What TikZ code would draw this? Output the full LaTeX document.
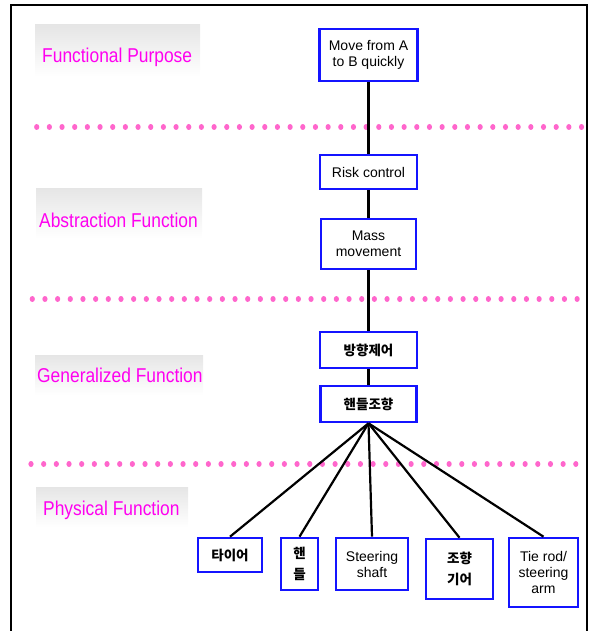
\documentclass[tikz,border=0pt]{standalone}
\usepackage{fontspec}
\setmainfont{Liberation Sans}
\newfontfamily\levelfont{Liberation Sans}[FakeStretch=0.87]
\newfontfamily\kr{Noto Sans CJK KR}
\definecolor{levelpink}{RGB}{255,0,240}
\definecolor{dotpink}{RGB}{255,102,204}
\definecolor{boxblue}{RGB}{20,20,255}

\begin{document}
\begin{tikzpicture}[x=1pt,y=-1pt,
  box/.style={draw=boxblue, line width=2.6pt, fill=white, inner sep=0pt,
    align=center, font=\fontsize{14}{16}\selectfont},
  krbox/.style={box, font=\kr\bfseries\fontsize{13.5}{21}\selectfont},
  link/.style={line width=2.2pt, black},
  level/.style={text=levelpink, font=\levelfont\fontsize{20}{24}\selectfont,
    anchor=base west, inner sep=0pt},
  band/.style={top color=gray!20, bottom color=white, draw=none},
  frame/.style={line width=2.2pt, black}
]
\useasboundingbox (0,0) rectangle (589,631);

% outer frame, open at the bottom
\draw[frame] (11,631) -- (11,5) -- (587,5) -- (587,631);

% shaded bands behind the level titles
\shade[band] (35,25) rectangle (200,77);
\shade[band] (36,188) rectangle (202,238);
\shade[band] (35,355) rectangle (203,395);
\shade[band] (36,487) rectangle (188,527);

% level titles
\node[level] (fp) at (42,63) {Functional Purpose};
\node[level] (af) at (39,227) {Abstraction Function};
\node[level] (gf) at (37,382) {Generalized Function};
\node[level] (pf) at (43,515) {Physical Function};

% dotted separators between levels
\foreach \k in {0,...,43} {
  \fill[dotpink] (36.7+12.67*\k,127) ellipse (2.6 and 3);
  \fill[dotpink] (32.3+12.67*\k,299) ellipse (2.6 and 3);
  \fill[dotpink] (31+12.67*\k,464) ellipse (2.6 and 3);
}

% hierarchy boxes
\node[box, minimum width=98, minimum height=52] (goal) at (368.5,55)
  {Move from A\\to B quickly};
\node[box, minimum width=97, minimum height=34] (risk) at (368.5,172)
  {Risk control};
\node[box, minimum width=95, minimum height=50] (mass) at (368.5,244)
  {Mass\\movement};
\node[krbox, minimum width=97, minimum height=36] (dir) at (368.5,350)
  {방향제어};
\node[krbox, minimum width=96, minimum height=36] (steer) at (368.5,404)
  {핸들조향};

\node[krbox, minimum width=64, minimum height=34] (tire) at (230,555)
  {타이어};
\node[krbox, minimum width=37, minimum height=52] (wheel) at (299.5,564)
  {핸\\들};
\node[box, minimum width=72, minimum height=52] (shaft) at (372,564)
  {Steering\\shaft};
\node[krbox, minimum width=67, minimum height=60] (gear) at (459.5,569)
  {조향\\기어};
\node[box, minimum width=69, minimum height=69] (tierod) at (543.5,572.5)
  {Tie rod/\\steering\\arm};

% connectors
\draw[link] (goal.south) -- (risk.north);
\draw[link] (risk.south) -- (mass.north);
\draw[link] (mass.south) -- (dir.north);
\draw[link] (dir.south) -- (steer.north);
\foreach \c in {tire,wheel,shaft,gear,tierod}
  \draw[link] (steer.south) -- (\c.north);
\end{tikzpicture}
\end{document}
